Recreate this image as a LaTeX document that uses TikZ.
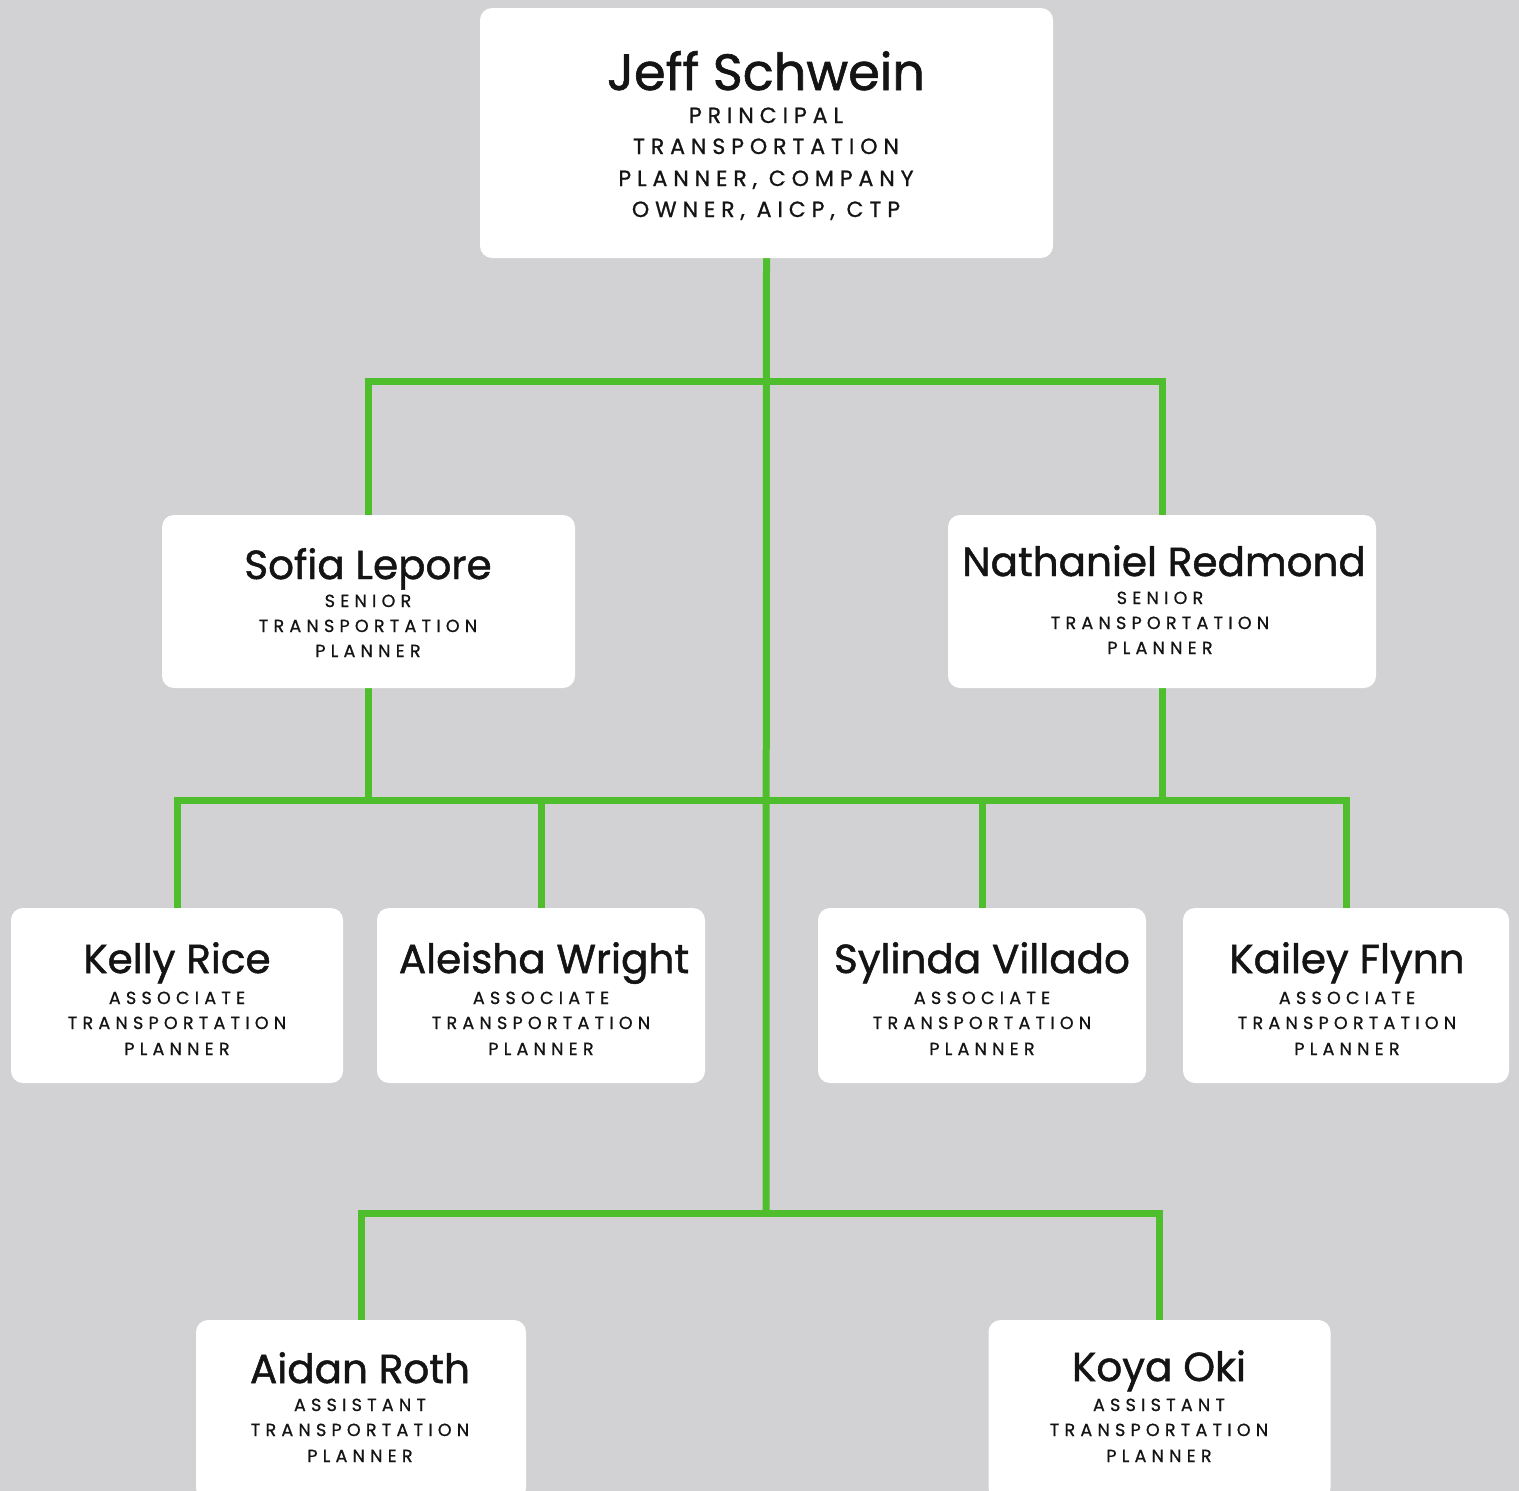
\documentclass[tikz,border=0pt]{standalone}
\usepackage{fontspec}
\setmainfont{Poppins}
\newfontfamily\namefont{Poppins}[FakeBold=1.2]
\newfontfamily\bigsubfont{Poppins}[LetterSpace=27,FakeBold=0.9]
\newfontfamily\subfont{Poppins}[LetterSpace=30,FakeBold=0.9]
\definecolor{bgc}{RGB}{210,210,212}
\definecolor{grn}{RGB}{78,190,44}
\definecolor{ink}{RGB}{20,20,20}
\pgfdeclarelayer{bglayer}
\pgfdeclarelayer{lines}
\pgfsetlayers{bglayer,lines,main}
\tikzset{
  card/.style={fill=white, rounded corners=12pt, inner sep=0pt},
  conn/.style={draw=grn, line width=7pt, line cap=rect, line join=miter},
  bigname/.style={anchor=base, inner sep=0pt, text=ink, font=\namefont\fontsize{51}{60}\selectfont},
  pname/.style={anchor=base, inner sep=0pt, text=ink, font=\namefont\fontsize{40.5}{46}\selectfont},
  bigsub/.style={anchor=base, inner sep=0pt, text=ink, font=\bigsubfont\fontsize{22}{26}\selectfont},
  psub/.style={anchor=base, inner sep=0pt, text=ink, font=\subfont\fontsize{17.5}{21}\selectfont},
}
\begin{document}
\begin{tikzpicture}[x=1pt,y=-1pt]
\begin{pgfonlayer}{bglayer}
\fill[bgc] (0,0) rectangle (1519,1491);
\end{pgfonlayer}
\useasboundingbox (0,0) rectangle (1519,1491);

% boxes
\node[card, minimum width=573pt, minimum height=250pt] (jeff) at (766.5,133) {};
\node[card, minimum width=413pt, minimum height=173pt] (sofia) at (368.5,601.5) {};
\node[card, minimum width=428pt, minimum height=173pt] (nath) at (1162,601.5) {};
\node[card, minimum width=332pt, minimum height=175pt] (kelly) at (177,995.5) {};
\node[card, minimum width=328pt, minimum height=175pt] (aleisha) at (541,995.5) {};
\node[card, minimum width=328pt, minimum height=175pt] (sylinda) at (982,995.5) {};
\node[card, minimum width=326pt, minimum height=175pt] (kailey) at (1346,995.5) {};
\node[card, minimum width=330pt, minimum height=180pt] (aidan) at (361,1410) {};
\node[card, minimum width=342pt, minimum height=180pt] (koya) at (1159.5,1410) {};

% texts
\node[bigname] (jeffn) at (766,90) {Jeff Schwein};
\node[bigsub] (jeffs1) at (766,123) {PRINCIPAL};
\node[bigsub] (jeffs2) at (766,154) {TRANSPORTATION};
\node[bigsub] (jeffs3) at (766,186) {PLANNER, COMPANY};
\node[bigsub] (jeffs4) at (766,217) {OWNER, AICP, CTP};

\node[pname] (sofian) at (368,579) {Sofia Lepore};
\node[psub] (sofias1) at (368,607) {SENIOR};
\node[psub] (sofias2) at (368,632) {TRANSPORTATION};
\node[psub] (sofias3) at (368,657) {PLANNER};

\node[pname] (nathn) at (1164,576) {Nathaniel Redmond};
\node[psub] (naths1) at (1160,604) {SENIOR};
\node[psub] (naths2) at (1160,629) {TRANSPORTATION};
\node[psub] (naths3) at (1160,654) {PLANNER};

\node[pname] (kellyn) at (177,973) {Kelly Rice};
\node[psub] (kellys1) at (177,1004) {ASSOCIATE};
\node[psub] (kellys2) at (177,1029) {TRANSPORTATION};
\node[psub] (kellys3) at (177,1055) {PLANNER};

\node[pname] (aleishan) at (544,973) {Aleisha Wright};
\node[psub] (aleishas1) at (541,1004) {ASSOCIATE};
\node[psub] (aleishas2) at (541,1029) {TRANSPORTATION};
\node[psub] (aleishas3) at (541,1055) {PLANNER};

\node[pname] (sylindan) at (982,973) {Sylinda Villado};
\node[psub] (sylindas1) at (982,1004) {ASSOCIATE};
\node[psub] (sylindas2) at (982,1029) {TRANSPORTATION};
\node[psub] (sylindas3) at (982,1055) {PLANNER};

\node[pname] (kaileyn) at (1347,973) {Kailey Flynn};
\node[psub] (kaileys1) at (1347,1004) {ASSOCIATE};
\node[psub] (kaileys2) at (1347,1029) {TRANSPORTATION};
\node[psub] (kaileys3) at (1347,1055) {PLANNER};

\node[pname] (aidann) at (360,1383) {Aidan Roth};
\node[psub] (aidans1) at (360,1411) {ASSISTANT};
\node[psub] (aidans2) at (360,1436) {TRANSPORTATION};
\node[psub] (aidans3) at (360,1462) {PLANNER};

\node[pname] (koyan) at (1159,1381) {Koya Oki};
\node[psub] (koyas1) at (1159,1411) {ASSISTANT};
\node[psub] (koyas2) at (1159,1436) {TRANSPORTATION};
\node[psub] (koyas3) at (1159,1462) {PLANNER};

% connectors
\coordinate (top) at (766,381);
\coordinate (mid) at (766,800);
\coordinate (bot) at (766,1213);
\begin{pgfonlayer}{lines}
\draw[conn] (jeff.south) -- (bot);
\draw[conn] (sofia.north) |- (top) -| (nath.north);
\draw[conn] (sofia.south) -- (sofia.south |- mid);
\draw[conn] (nath.south) -- (nath.south |- mid);
\draw[conn] (kelly.north) |- (mid) -| (kailey.north);
\draw[conn] (aleisha.north) -- (aleisha.north |- mid);
\draw[conn] (sylinda.north) -- (sylinda.north |- mid);
\draw[conn] (aidan.north) |- (bot) -| (koya.north);
\end{pgfonlayer}
\end{tikzpicture}
\end{document}
